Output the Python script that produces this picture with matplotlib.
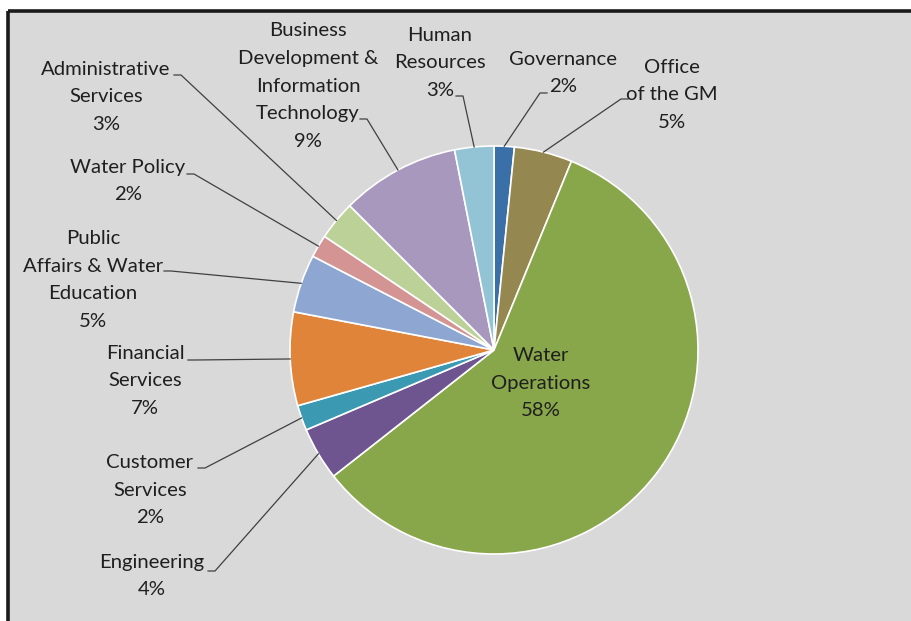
import matplotlib
matplotlib.use("Agg")
import matplotlib.pyplot as plt
import numpy as np

# ---- data (clockwise from 12 o'clock) ----
departments = ["Governance", "Office\nof the GM", "Water\nOperations", "Engineering",
               "Customer\nServices", "Financial\nServices",
               "Public\nAffairs & Water\nEducation", "Water Policy",
               "Administrative\nServices",
               "Business\nDevelopment &\nInformation\nTechnology",
               "Human\nResources"]
shares = [1.6, 4.6, 58.2, 4.2, 2.0, 7.4, 4.6, 1.8, 3.1, 9.4, 3.1]
pct_labels = ["2%", "5%", "58%", "4%", "2%", "7%", "5%", "2%", "3%", "9%", "3%"]
colors = ["#3A6FA8", "#958750", "#88A64A", "#6E5590", "#3B9AB2", "#E0843A",
          "#8EA7D2", "#D49493", "#BCD197", "#A898BE", "#93C4D6"]

W, H = 912, 621
fig = plt.figure(figsize=(W / 100, H / 100), dpi=100)
fig.patch.set_facecolor("white")

# gray panel with frame (left & top visible)
bg = fig.add_axes([0, 0, 1, 1])
bg.set_xlim(0, W); bg.set_ylim(H, 0); bg.axis("off")
bg.add_patch(plt.Rectangle((8, 11), W, H, facecolor="#D9D9D9", edgecolor="none"))
bg.plot([8, 8], [11, H], color="#1a1a1a", lw=2.6, solid_capstyle="butt")
bg.plot([8, W], [11, 11], color="#1a1a1a", lw=2.6, solid_capstyle="butt")

ax = fig.add_axes([0, 0, 1, 1])
ax.set_xlim(0, W); ax.set_ylim(0, H); ax.axis("off")
ax.set_aspect("equal")

cx, cy_px, R = 494, 350, 204
cy = H - cy_px
wedges, _ = ax.pie(shares, colors=colors, startangle=90, counterclock=False,
                   center=(cx, cy), radius=R, frame=True,
                   wedgeprops=dict(edgecolor="white", linewidth=1.2))
ax.set_xlim(0, W); ax.set_ylim(0, H); ax.axis("off")

font = dict(family=["Lato", "DejaVu Sans"], fontsize=14.6, color="#1f1f1f")

# label layout: (text centre x, text centre y, leader start x, leader start y, horizontal tick dx) in px
layout = {
    0: (563, 73, 547, 93, -7),
    1: (672, 95, 628, 99, -7),
    2: (541, 383, None, None, 0),
    3: (152, 576, 208, 571, 7),
    4: (150, 490, 198, 468, 7),
    5: (145, 381, 188, 360, 7),
    6: (93, 280, 164, 271, 7),
    7: (128, 181, 187, 174, 7),
    8: (106, 97, 174, 75, 7),
    9: (308, 86, 360, 119, 7),
    10: (440, 63, 456, 96, 7),
}

for i, w in enumerate(wedges):
    tx, ty, sx, sy, tick = layout[i]
    ax.text(tx, H - ty, departments[i] + "\n" + pct_labels[i], ha="center", va="center",
            multialignment="center", linespacing=1.77, **font)
    if sx is None:
        continue
    mid = np.deg2rad((w.theta1 + w.theta2) / 2)
    ex = cx + R * np.cos(mid)
    ey = cy + R * np.sin(mid)
    ax.plot([sx, sx + tick, ex], [H - sy, H - sy, ey], color="#404040", lw=0.9)

fig.savefig("out.png", dpi=100, facecolor=fig.get_facecolor())
